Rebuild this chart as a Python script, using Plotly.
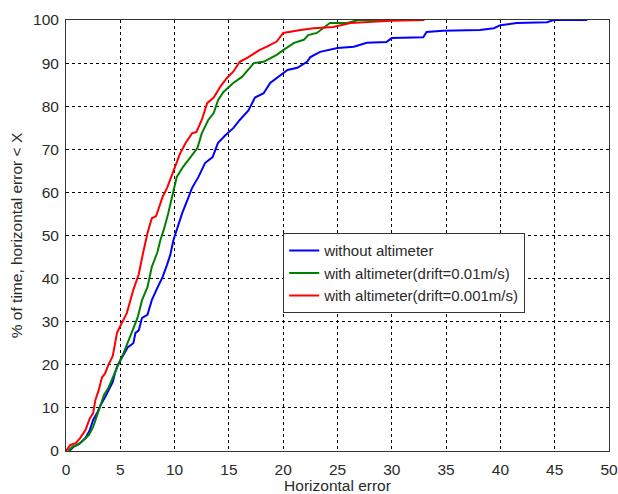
import plotly.graph_objects as go

# Horizontal error (x) and % of time horizontal error < X (y)
x_without = [0.3, 0.7, 1.3, 1.8, 2.2, 2.5, 2.9, 3.2, 3.6, 3.9, 4.3, 4.5, 4.7, 5.0, 5.3, 5.7, 6.2, 6.4,
             6.7, 7.0, 7.5, 7.9, 8.4, 8.9, 9.3, 9.6, 9.9, 10.2, 10.7, 11.3, 11.6, 12.2, 12.8, 13.5, 14.0,
             14.7, 15.4, 16.0, 16.8, 17.4, 18.2, 18.8, 19.6, 20.4, 21.3, 22.2, 22.5, 23.4, 25.0, 26.5,
             27.7, 29.5, 30.0, 32.9, 33.2, 34.7, 38.1, 39.4, 40.0, 41.5, 44.3, 44.9, 48.0]
y_without = [0.0, 1.0, 1.8, 3.0, 4.9, 7.2, 9.0, 10.7, 12.5, 14.0, 16.0, 18.0, 19.5, 21.0, 22.3, 24.1, 25.0, 27.4,
             28.0, 30.9, 31.6, 35.0, 37.8, 40.4, 43.2, 45.5, 49.0, 51.3, 55.2, 59.0, 61.0, 63.6, 66.8, 68.2, 71.5,
             73.3, 74.9, 76.8, 79.0, 82.0, 83.0, 85.4, 86.8, 88.4, 88.9, 90.3, 91.4, 92.6, 93.5, 93.8,
             94.7, 94.9, 95.8, 96.0, 97.2, 97.5, 97.7, 98.1, 98.8, 99.3, 99.5, 100.0, 100.0]

x_drift01 = [0.2, 0.6, 1.1, 1.6, 2.1, 2.5, 2.9, 3.2, 3.5, 3.9, 4.1, 4.4, 4.8, 5.3, 5.6, 6.1, 6.6, 7.0,
             7.5, 7.9, 8.4, 8.7, 9.0, 9.4, 9.9, 10.2, 10.8, 11.6, 12.1, 12.5, 13.1, 13.6, 14.0, 14.5,
             15.4, 16.2, 17.3, 18.2, 19.4, 20.0, 21.0, 21.9, 22.3, 23.1, 23.7, 24.3, 25.9, 26.9, 29.9]
y_drift01 = [0.0, 1.0, 1.4, 2.6, 3.7, 5.6, 8.4, 10.7, 13.0, 14.6, 15.8, 18.0, 20.0, 22.7, 24.6, 27.4, 31.0, 35.0,
             38.0, 42.7, 46.0, 49.0, 51.3, 55.0, 60.0, 63.6, 66.0, 68.7, 70.3, 73.7, 76.8, 78.4, 81.4, 83.3,
             85.4, 86.8, 90.0, 90.3, 91.9, 93.0, 94.7, 95.4, 96.5, 97.0, 98.1, 99.3, 99.3, 100.0, 100.0]

x_drift001 = [0.0, 0.4, 0.9, 1.3, 1.8, 2.2, 2.5, 2.7, 3.0, 3.3, 3.6, 3.9, 4.3, 4.5, 4.7, 5.0, 5.6, 6.2,
              6.7, 7.1, 7.5, 7.9, 8.3, 8.9, 9.3, 9.9, 10.5, 11.0, 11.6, 12.0, 12.5, 13.0, 13.6, 14.2,
              14.8, 15.4, 16.0, 16.8, 17.8, 18.5, 19.4, 20.0, 20.6, 21.6, 22.8, 24.6, 26.2, 29.9, 33.0]
y_drift001 = [0.0, 1.4, 1.8, 3.0, 4.9, 7.6, 8.8, 11.8, 14.0, 17.0, 18.0, 20.0, 22.0, 25.0, 27.4, 29.0, 32.0, 37.4,
              41.0, 46.0, 50.5, 54.0, 54.5, 59.0, 61.0, 65.0, 69.0, 71.4, 73.7, 74.0, 76.8, 80.7, 82.0, 84.5,
              86.5, 88.0, 90.3, 91.4, 93.0, 93.8, 95.0, 97.0, 97.3, 97.7, 98.1, 98.4, 99.3, 99.8, 100.0]

series = [
    ("without altimeter", x_without, y_without, "#0000FF"),
    ("with altimeter(drift=0.01m/s)", x_drift01, y_drift01, "#008000"),
    ("with altimeter(drift=0.001m/s)", x_drift001, y_drift001, "#FF0000"),
]

fig = go.Figure()
for name, xs, ys, col in series:
    fig.add_trace(go.Scatter(x=xs, y=ys, mode="lines", name=name,
                             line=dict(color=col, width=2)))

font_family = "Liberation Sans, Arial, sans-serif"
txt_color = "#2a2a2a"
axis_common = dict(
    showline=True, linecolor="#333333", linewidth=1, mirror=True,
    showgrid=True, gridcolor="black", gridwidth=1, griddash="3px,3px",
    zeroline=False, ticks="", automargin=False,
    tickfont=dict(family=font_family, size=15.5, color=txt_color),
)

fig.update_layout(
    width=618, height=494,
    margin=dict(l=66, r=9, t=20, b=43),
    paper_bgcolor="white", plot_bgcolor="white",
    font=dict(family=font_family, size=15.5, color=txt_color),
    showlegend=True,
    legend=dict(x=0.4, y=0.505, xanchor="left", yanchor="top",
                bgcolor="white", bordercolor="#333333", borderwidth=1,
                font=dict(family=font_family, size=15, color=txt_color),
                tracegroupgap=0, itemwidth=30,
                entrywidth=230, entrywidthmode="pixels"),
    xaxis=dict(range=[0, 50], dtick=5, ticklabelstandoff=4,
               title=dict(text="Horizontal error", standoff=2,
                          font=dict(family=font_family, size=15.5, color=txt_color)),
               **axis_common),
    yaxis=dict(range=[0, 100], dtick=10, ticklabelstandoff=3,
               title=dict(text="% of time, horizontal error < X", standoff=6,
                          font=dict(family=font_family, size=15.5, color=txt_color)),
               **axis_common),
)

fig.write_html("out.html")
